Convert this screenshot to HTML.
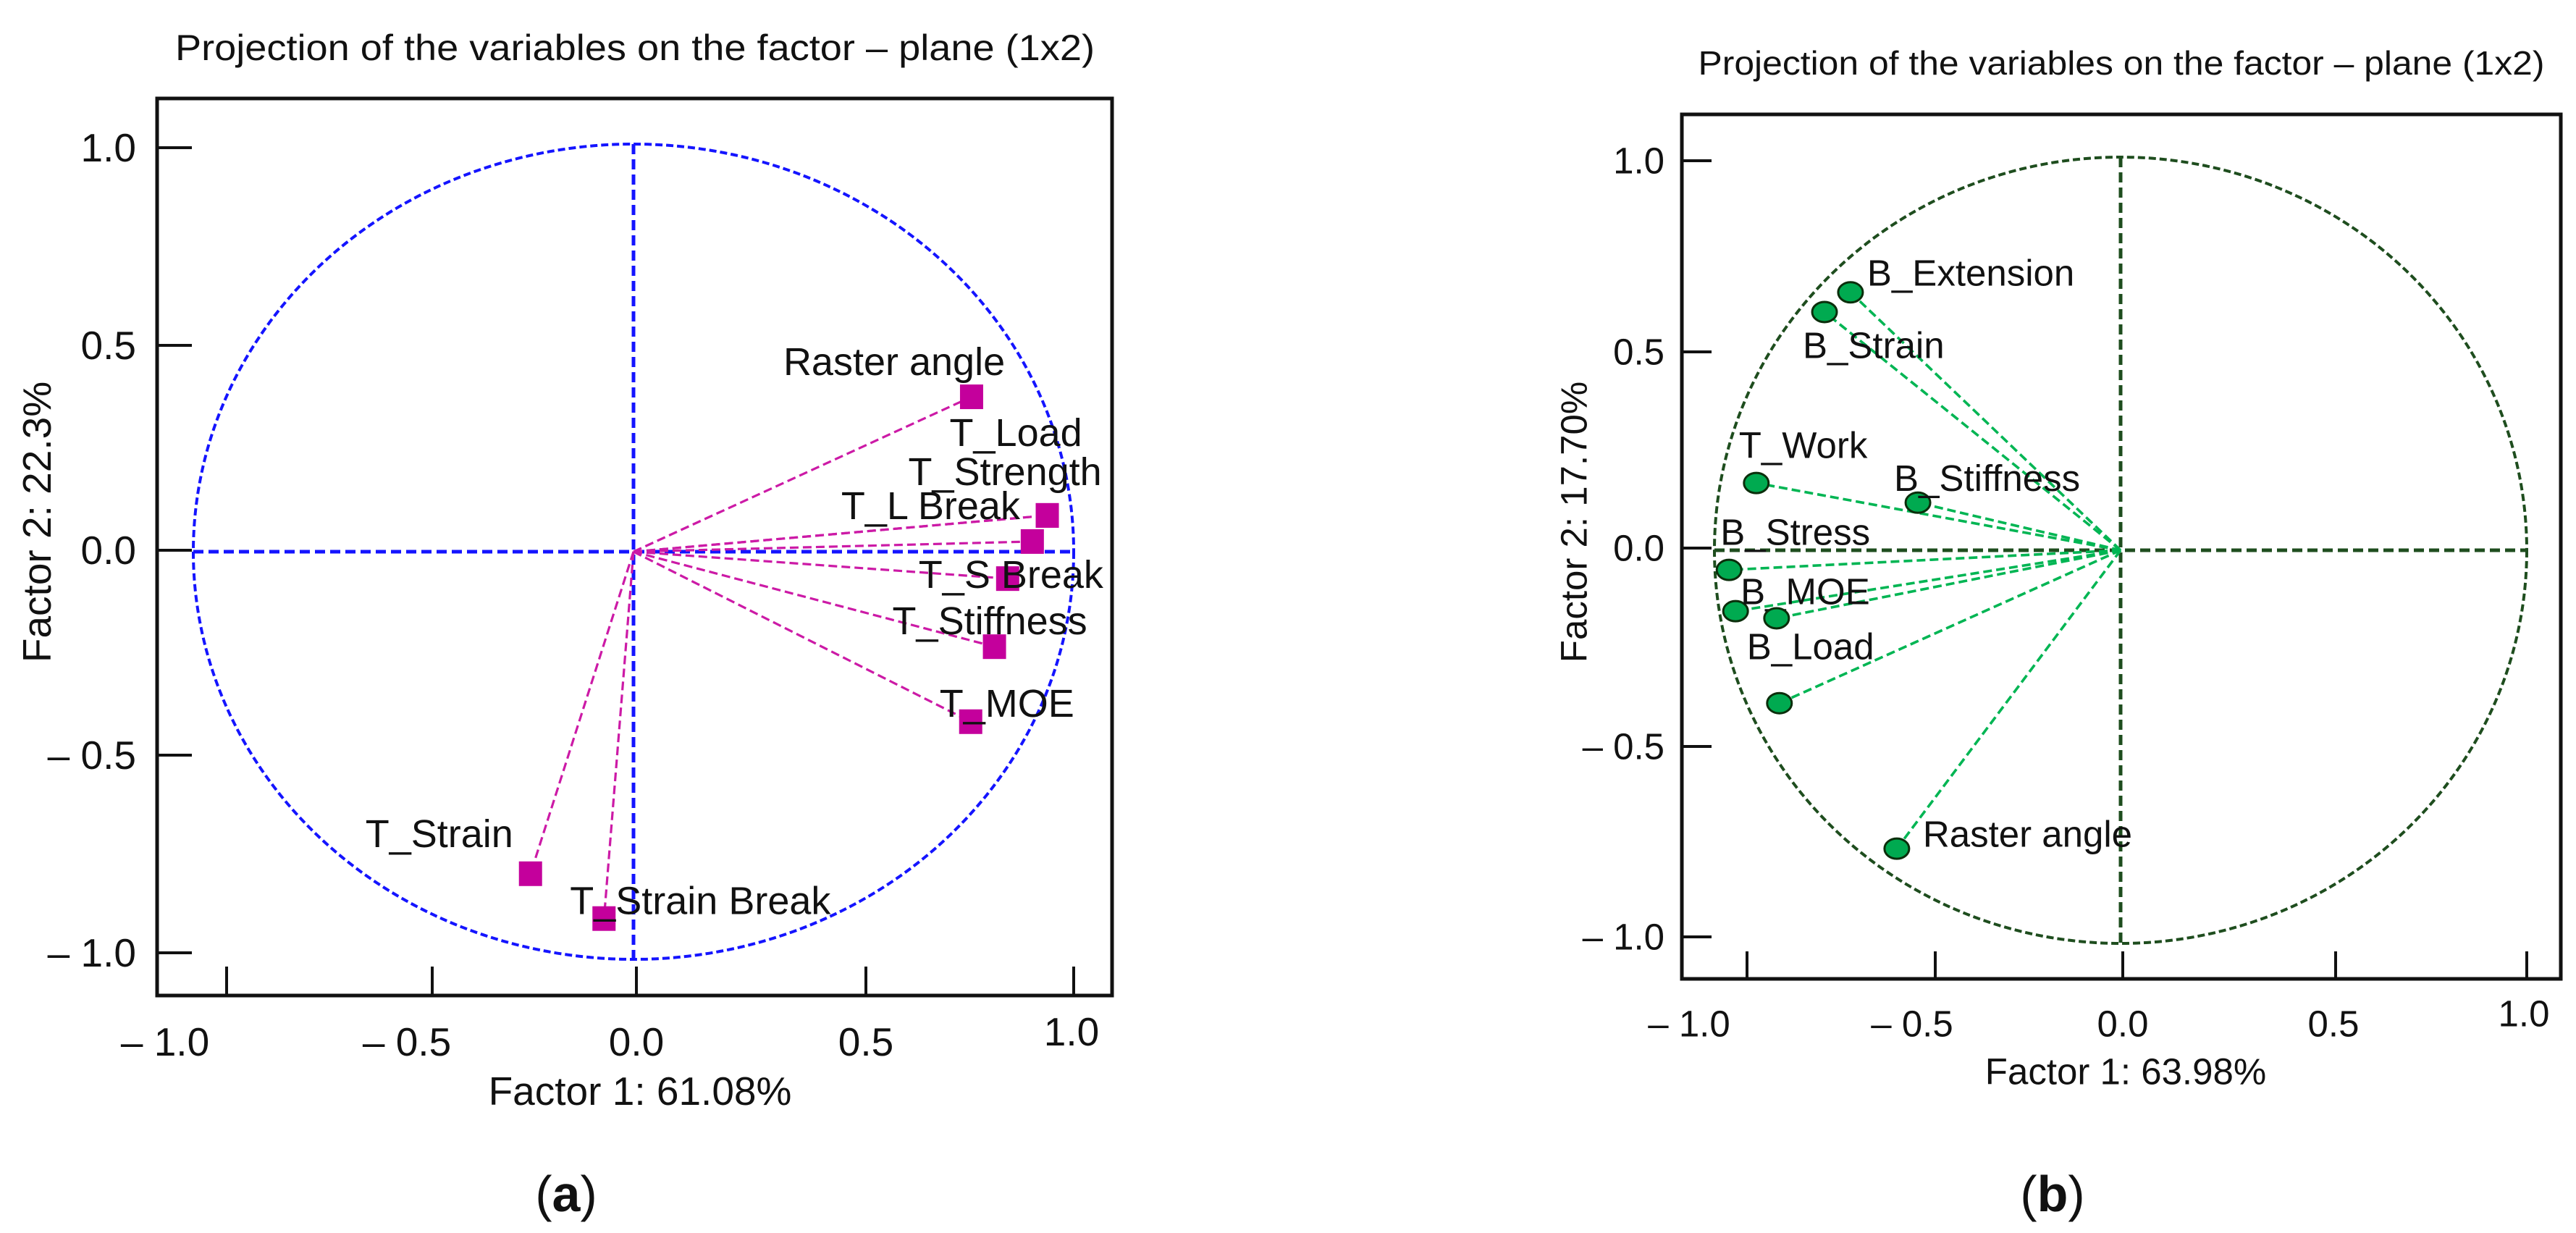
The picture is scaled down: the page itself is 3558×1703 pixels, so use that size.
<!DOCTYPE html>
<html><head><meta charset="utf-8"><style>
html,body{margin:0;padding:0;background:#fff}
svg{display:block}
text{font-family:"Liberation Sans",Arial,sans-serif;fill:#111}
</style></head><body>
<svg id="s" width="3558" height="1703" viewBox="0 0 3558 1703" xmlns="http://www.w3.org/2000/svg">
<g id="ga"></g>
<g id="gb"></g>
</svg>
<script>
// Panel (a) data
const aNames = ["Raster angle","T_Load","T_Strength","T_L Break","T_S Break","T_Stiffness","T_MOE","T_Strain","T_Strain Break"];
const aF1 = [0.768,0.94,0.94,0.906,0.85,0.82,0.766,-0.234,-0.067];
const aF2 = [0.38,0.089,0.089,0.025,-0.066,-0.233,-0.417,-0.79,-0.90];
// Panel (b) data
const bNames = ["B_Extension","B_Strain","T_Work","B_Stiffness","B_Stress","B_MOE","","B_Load","Raster angle"];
const bF1 = [-0.665,-0.729,-0.897,-0.499,-0.964,-0.948,-0.847,-0.84,-0.551];
const bF2 = [0.656,0.606,0.171,0.121,-0.05,-0.155,-0.173,-0.389,-0.759];
const tickVals = [-1.0,-0.5,0.0,0.5,1.0];
const tickLabels = ["\u2013 1.0","\u2013 0.5","0.0","0.5","1.0"];

const NS="http://www.w3.org/2000/svg";
function mk(parent,tag,attrs,txt){const e=document.createElementNS(NS,tag);for(const k in attrs)e.setAttribute(k,attrs[k]);if(txt!==undefined)e.textContent=txt;parent.appendChild(e);return e;}

// layout (label offsets relative to markers, in px)
const aLab=[[-260,-48],[-135,-114],[-192,-60],[-264,-49],[-123,-5],[-141,-35],[-43,-25],[-228,-55],[-47,-24]];
const bLab=[[23,-27],[-30,46],[-24,-52],[-33,-34],[-12,-52],[7,-27],[0,0],[-45,-78],[36,-20]];

function panel(g,cfg){
  const X=v=>cfg.cx+v*cfg.rx, Y=v=>cfg.cy-v*cfg.ry;
  const t=mk(g,'text',{x:cfg.titleX,y:cfg.titleY,'text-anchor':'middle','font-size':cfg.titleFs,textLength:cfg.titleLen,lengthAdjust:'spacingAndGlyphs','dominant-baseline':'central'},"Projection of the variables on the factor \u2013 plane (1x2)");
  
  
  const box=mk(g,'rect',{x:cfg.bx1,y:cfg.by1,width:cfg.bx2-cfg.bx1,height:cfg.by2-cfg.by1,fill:'none',stroke:'#111','stroke-width':5});
  
  
  tickVals.forEach((v,i)=>{
    const yy=cfg.yTicks[i];
    const l=mk(g,'line',{x1:cfg.bx1,x2:cfg.bx1+cfg.tickLen,y1:yy,y2:yy,stroke:'#111','stroke-width':4});
    
    
    const tx=mk(g,'text',{x:cfg.yLabX,y:yy,'text-anchor':'end','font-size':cfg.fs,'dominant-baseline':'central'},tickLabels[i]);
    
    
  });
  tickVals.forEach((v,i)=>{
    const xx=cfg.xTicks[i];
    const l=mk(g,'line',{x1:xx,x2:xx,y1:cfg.by2,y2:cfg.by2-cfg.tickH,stroke:'#111','stroke-width':4});
    
    
    const tx=mk(g,'text',{x:cfg.xLabX[i],y:(i==4?cfg.xLabY-14:cfg.xLabY),'text-anchor':'middle','font-size':cfg.fs,'dominant-baseline':'central'},tickLabels[i]);
    
    
  });
  const xt=mk(g,'text',{x:cfg.xtX,y:cfg.xtY,'text-anchor':'middle','font-size':cfg.fs,'dominant-baseline':'central'},cfg.xTitle);
  
  
  const yt=mk(g,'text',{x:0,y:0,'text-anchor':'middle','font-size':cfg.fs,'dominant-baseline':'central',transform:`translate(${cfg.ytX},${cfg.ytY}) rotate(-90)`},cfg.yTitle);
  
  
  const c=mk(g,'ellipse',{cx:X(0),cy:Y(0),rx:cfg.rx,ry:cfg.ry,fill:'none',stroke:cfg.circ,'stroke-width':4,'stroke-dasharray':'10,5'});
  
  
  const h=mk(g,'line',{x1:X(-1),x2:X(1),y1:Y(0),y2:Y(0),stroke:cfg.circ,'stroke-width':5,'stroke-dasharray':'14,7'});
  
  
  const v=mk(g,'line',{x1:X(0),x2:X(0),y1:Y(1),y2:Y(-1),stroke:cfg.circ,'stroke-width':5,'stroke-dasharray':'14,7'});
  
  
  cfg.f1.forEach((fx,i)=>{
    const px=X(fx), py=Y(cfg.f2[i]);
    const ln=mk(g,'line',{x1:X(0),y1:Y(0),x2:px,y2:py,stroke:cfg.lineC,'stroke-width':cfg.lw,'stroke-dasharray':'12,6'});
    
    
  });
  cfg.f1.forEach((fx,i)=>{
    const px=X(fx), py=Y(cfg.f2[i]);
    let m;
    if(cfg.square){m=mk(g,'rect',{x:px-16,y:py-17,width:32,height:34,fill:'#c4009c'});}
    else{m=mk(g,'ellipse',{cx:px,cy:py,rx:17,ry:14,fill:'#00aa50',stroke:'#0b2e0b','stroke-width':3});}
    
    
    if(cfg.names[i]){
      const tx=mk(g,'text',{x:px+cfg.lab[i][0],y:py+cfg.lab[i][1],'font-size':cfg.labFs,'dominant-baseline':'central'},cfg.names[i]);
      
      
    }
  });
  const cap=mk(g,'text',{x:cfg.capX,y:1649,'text-anchor':'middle','font-size':70,'dominant-baseline':'central','font-family':'"Liberation Serif",serif'});
  
  
  mk(cap,'tspan',{},'(');mk(cap,'tspan',{'font-weight':'bold'},cfg.capL);mk(cap,'tspan',{},')');
}
panel(document.getElementById('ga'),{
  cx:875,cy:762,rx:608,ry:563,bx1:217,bx2:1536,by1:136,by2:1375,
  yTicks:[1316,1043,760,477,204],xTicks:[313,597,879,1196,1483],xLabX:[228,562,879,1196,1480],xLabY:1439,
  tickLen:48,tickH:40,yLabX:188,fs:55,labFs:54,titleX:877,titleY:66,titleFs:50,titleLen:1270,
  xTitle:"Factor 1: 61.08%",xtX:884,xtY:1507,yTitle:"Factor 2: 22.3%",ytX:51,ytY:721,
  circ:'#1414ff',lineC:'#cc1aa6',lw:3.2,square:true,names:aNames,f1:aF1,f2:aF2,lab:aLab,capX:782,capL:'a'
});
panel(document.getElementById('gb'),{
  cx:2929,cy:760,rx:561,ry:543,bx1:2323,bx2:3537,by1:158,by2:1352,
  yTicks:[1294,1031,757,486,222],xTicks:[2413,2673,2932,3226,3490],xLabX:[2333,2641,2932,3223,3486],xLabY:1414,
  tickLen:41,tickH:38,yLabX:2299,fs:51,labFs:51,titleX:2930,titleY:87,titleFs:46,titleLen:1169,
  xTitle:"Factor 1: 63.98%",xtX:2936,xtY:1480,yTitle:"Factor 2: 17.70%",ytX:2174,ytY:721,
  circ:'#1e4d1e',lineC:'#00b553',lw:3.6,square:false,names:bNames,f1:bF1,f2:bF2,lab:bLab,capX:2835,capL:'b'
});
</script>
</body></html>
